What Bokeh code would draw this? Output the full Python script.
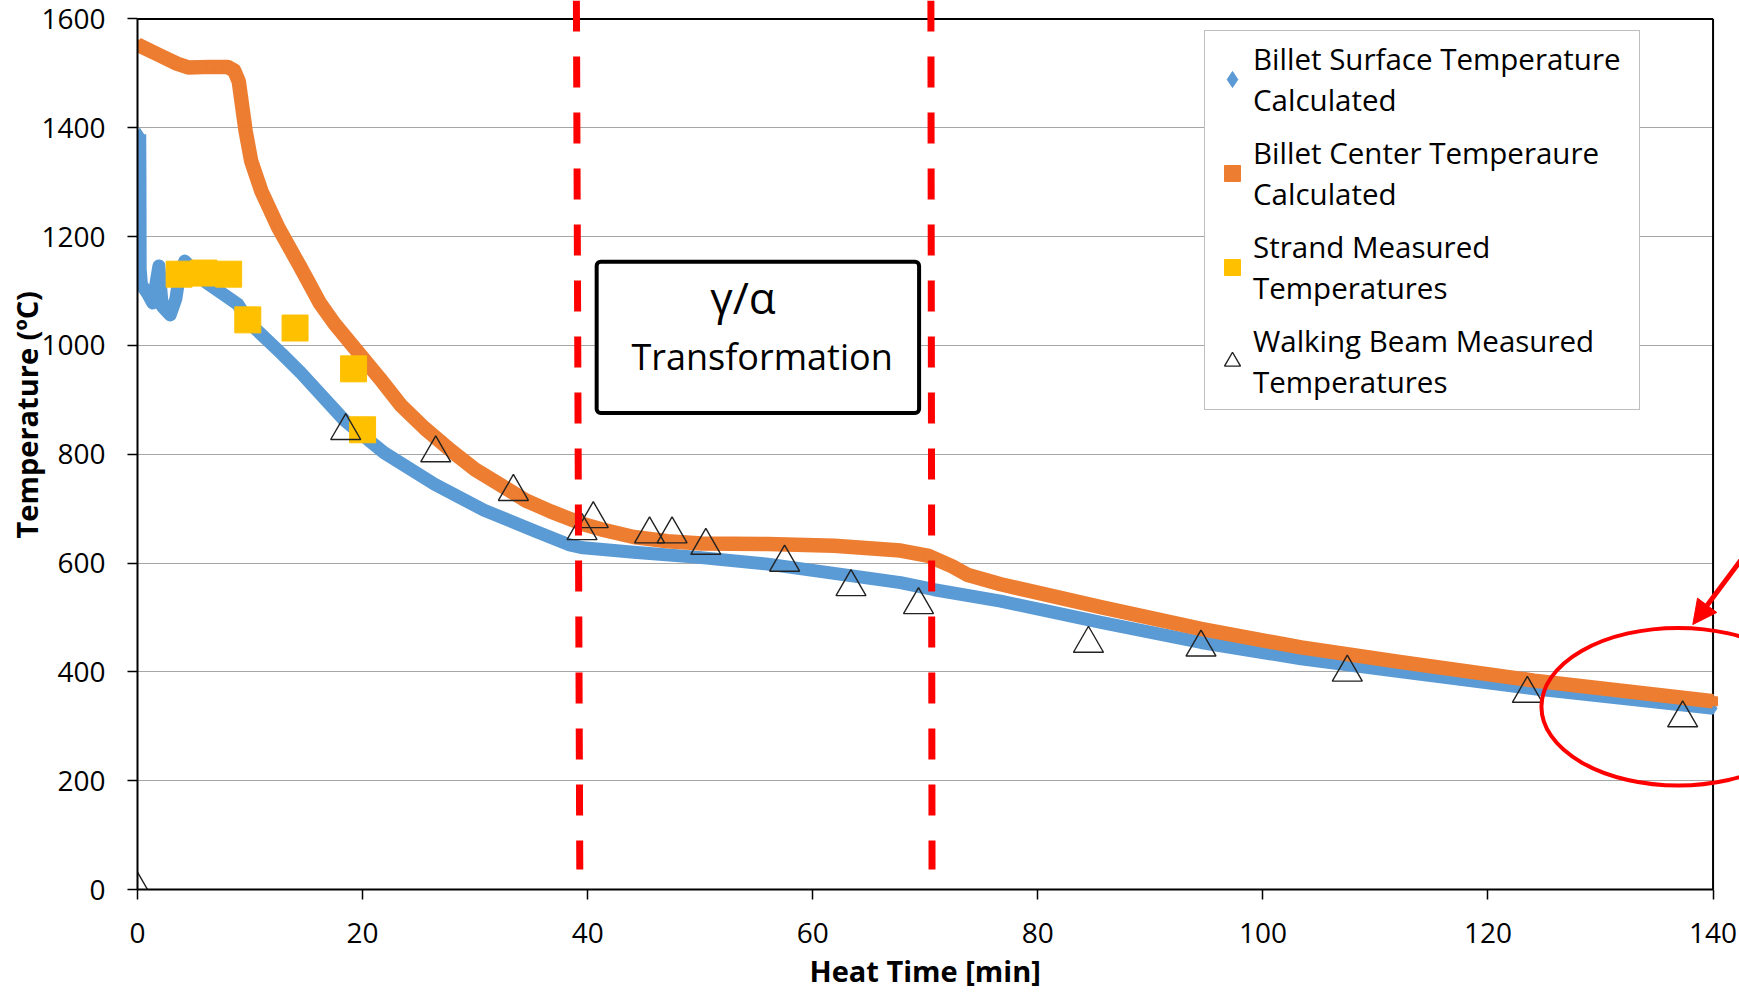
from bokeh.plotting import figure
from bokeh.models import (Label, Legend, LegendItem, FixedTicker, BoxAnnotation,
                          Arrow, NormalHead, Grid, Title)
from bokeh.embed import file_html
from bokeh.resources import INLINE

# ---------------- data ----------------
surface_time = [0.2, 0.22, 0.23, 0.24, 0.35, 0.9, 1.35, 1.9, 2.2, 2.9, 3.4, 3.7, 4.2,
                6.1, 8.9, 10.1, 12.8, 14.5, 18.4, 21.9, 26.4, 30.8, 35.3, 38.3, 39.6,
                44.1, 50.1, 56.0, 61.9, 67.8, 70.8, 76.7, 85.6, 94.5, 103.4, 112.3,
                124.1, 140.0]
surface_temp = [1388, 1300, 1200, 1140, 1112, 1095, 1078, 1146, 1072, 1056, 1085, 1125, 1155,
                1116, 1076, 1038, 985, 950, 862, 803, 745, 697, 659, 634, 628,
                620, 610, 598, 581, 564, 551, 530, 491, 454, 424, 400,
                369, 333]

center_time = [0.0, 2.0, 3.5, 4.5, 6.5, 8.0, 8.6, 9.0, 9.3, 9.6, 10.1, 11.0, 12.5, 14.5,
               16.2, 17.5, 19.5, 21.5, 23.4, 25.5, 27.9, 30.0, 32.3, 34.5, 36.7, 38.2,
               39.7, 41.2, 44.1, 47.1, 50.1, 56.0, 61.9, 67.8, 70.3, 72.4, 73.8, 76.7,
               85.6, 94.5, 103.4, 112.3, 124.1, 140.0]
center_temp = [1553, 1533, 1518, 1511, 1512, 1512, 1505, 1485, 1440, 1395, 1339, 1284, 1217, 1143,
               1078, 1040, 990, 940, 890, 848, 806, 772, 743, 715, 695, 683,
               671, 662, 648, 640, 636, 635, 632, 623, 613, 594, 578, 561,
               519, 479, 445, 418, 384, 346]

strand_time = [3.7, 5.9, 8.1, 9.8, 14.0, 19.2, 20.0]
strand_temp = [1131, 1133, 1131, 1047, 1032, 957, 845]

beam_time = [0, 18.5, 26.5, 33.4, 39.5, 40.5, 45.5, 47.5, 50.5, 57.5, 63.4, 69.4,
             84.5, 94.5, 107.5, 123.5, 137.3]
beam_temp = [0, 843, 802, 731, 659, 681, 653, 653, 632, 601, 556, 523,
             452, 445, 399, 360, 315]

x_ticks = [0, 20, 40, 60, 80, 100, 120, 140]
y_ticks = [0, 200, 400, 600, 800, 1000, 1200, 1400, 1600]

transformation_bounds = [39.0, 39.3, 70.5, 70.6]   # top/bottom x of the two dashed lines

series_labels = ["Billet Surface Temperature\nCalculated",
                 "Billet Center Temperaure\nCalculated",
                 "Strand Measured\nTemperatures",
                 "Walking Beam Measured\nTemperatures"]

# ---------------- styles ----------------
BLUE = "#5B9BD5"
ORANGE = "#ED7D31"
YELLOW = "#FFC000"
RED = "#FF0000"
FONT = "Open Sans"

X_MAX, Y_MAX = 140, 1600
X_END, Y_END = 142.35, 1634

p = figure(width=1739, height=996, x_range=(0, X_END), y_range=(0, Y_END),
           min_border_left=137, min_border_right=0, min_border_top=0,
           min_border_bottom=107, output_backend="svg", toolbar_location=None)
p.outline_line_color = None
p.background_fill_color = "white"
p.border_fill_color = "white"

# axes
for ax in (p.xaxis[0], p.yaxis[0]):
    ax.axis_line_color = "black"
    ax.axis_line_width = 2
    ax.major_tick_line_color = "black"
    ax.major_tick_line_width = 1.5
    ax.major_tick_out = 10
    ax.major_tick_in = 0
    ax.minor_tick_out = 0
    ax.minor_tick_in = 0
    ax.major_label_text_font = FONT
    ax.major_label_text_font_size = "28px"
    ax.major_label_text_color = "black"

p.xaxis[0].ticker = FixedTicker(ticks=x_ticks)
p.yaxis[0].ticker = FixedTicker(ticks=y_ticks)
p.xaxis[0].bounds = (0, X_MAX)
p.yaxis[0].bounds = (0, Y_MAX)
p.xaxis[0].major_label_standoff = 23
p.yaxis[0].major_label_standoff = 22

# axis titles (as side titles so they can be positioned like the original)
x_title = Title(text="Heat Time [min]", align="left", offset=672,
                vertical_align="middle", standoff=8, text_font=FONT,
                text_font_size="29px", text_font_style="bold", text_color="black")
p.add_layout(x_title, "below")
y_title = Title(text="Temperature (ºC)", align="left", offset=351,
                vertical_align="bottom", standoff=0, text_font=FONT,
                text_font_size="29px", text_font_style="bold", text_color="black")
try:
    y_title.standoff = -14
except Exception:
    y_title.vertical_align = "middle"
p.add_layout(y_title, "left")

# grid
p.xgrid.visible = False
p.ygrid.ticker = FixedTicker(ticks=y_ticks)
p.ygrid.grid_line_color = "#A6A6A6"
p.ygrid.grid_line_width = 1
if "cross_bounds" in Grid.properties():
    p.ygrid.cross_bounds = (0, X_MAX)
    p.ygrid.bounds = (0, Y_MAX)
else:
    p.ygrid.visible = False
    p.segment(x0=[0] * len(y_ticks), y0=y_ticks, x1=[X_MAX] * len(y_ticks), y1=y_ticks,
              line_color="#A6A6A6", line_width=1, level="underlay")

# frame: top and right edges of the plot box
p.line([0, X_MAX], [Y_MAX, Y_MAX], line_color="black", line_width=2)
p.line([X_MAX, X_MAX], [0, Y_MAX], line_color="black", line_width=2)

# series
p.line(surface_time, surface_temp, line_color=BLUE, line_width=13, line_join="round")
r_surf = p.scatter(surface_time, surface_temp, marker="diamond", size=12,
                   fill_color=BLUE, line_color=BLUE)
p.line(center_time, center_temp, line_color=ORANGE, line_width=14.5, line_join="round")
r_cent = p.scatter(center_time, center_temp, marker="square", size=9,
                   fill_color=ORANGE, line_color=ORANGE)
r_strand = p.scatter(strand_time, strand_temp, marker="square", size=26,
                     fill_color=YELLOW, line_color=YELLOW)
r_beam = p.scatter(beam_time, beam_temp, marker="triangle", size=30,
                   fill_color=None, line_color="#222222", line_width=1.4)

# transformation dashed lines
y_top = Y_END
y_bot = 36.7
p.segment(x0=[transformation_bounds[0], transformation_bounds[2]], y0=[y_top, y_top],
          x1=[transformation_bounds[1], transformation_bounds[3]], y1=[y_bot, y_bot],
          line_color=RED, line_width=7, line_dash="31 25")

# highlight ellipse + arrow
p.ellipse(x=[136.9], y=[336], width=[24.3], height=[290], fill_color=None,
          line_color=RED, line_width=4)
p.add_layout(Arrow(x_start=143.5, y_start=634, x_end=138.2, y_end=487,
                   line_color=RED, line_width=5,
                   end=NormalHead(size=24, fill_color=RED, line_color=RED)))

# transformation box
p.add_layout(BoxAnnotation(left=40.8, right=69.45, top=1154, bottom=876,
                           fill_color="white", fill_alpha=1.0, line_color="black",
                           line_width=4, line_alpha=1.0, border_radius=4))
p.add_layout(Label(x=53.8, y=1089, text="γ/α", text_font=FONT, text_font_size="44px",
                   text_align="center", text_baseline="middle", text_color="black"))
p.add_layout(Label(x=55.5, y=979, text="Transformation", text_font=FONT,
                   text_font_size="36px", text_align="center", text_baseline="middle",
                   text_color="black"))

# legend
legend = Legend(items=[LegendItem(label=series_labels[0], renderers=[r_surf]),
                       LegendItem(label=series_labels[1], renderers=[r_cent]),
                       LegendItem(label=series_labels[2], renderers=[r_strand]),
                       LegendItem(label=series_labels[3], renderers=[r_beam])],
                location=(1067, 479))
legend.label_text_font = FONT
legend.label_text_font_size = "29.5px"
legend.label_text_color = "black"
legend.label_text_line_height = 1.36
legend.label_width = 379
legend.glyph_width = 40
legend.glyph_height = 40
legend.label_standoff = 1
legend.padding = 7
legend.spacing = 12
legend.margin = 0
legend.border_line_color = "#7F7F7F"
legend.border_line_width = 1
legend.background_fill_color = "white"
legend.background_fill_alpha = 1.0
p.add_layout(legend)

open("out.html", "w").write(file_html(p, INLINE))
